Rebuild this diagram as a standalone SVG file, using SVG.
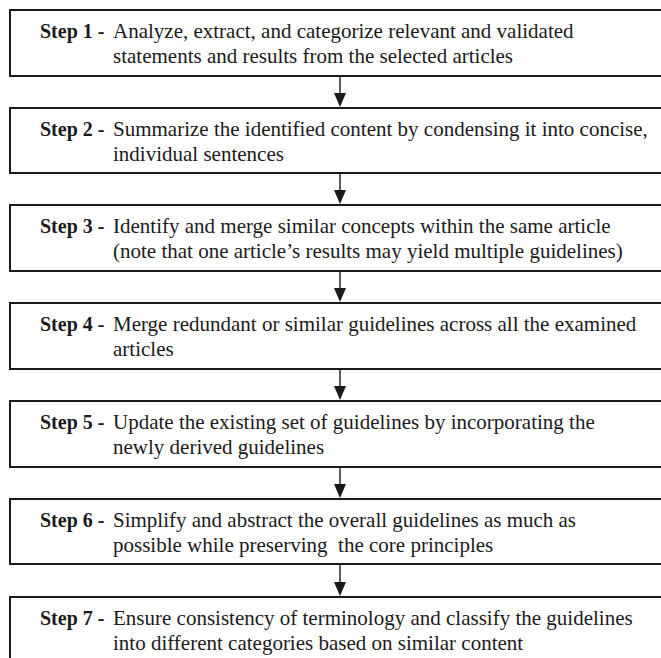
<svg xmlns="http://www.w3.org/2000/svg" width="661" height="658" viewBox="0 0 661 658">
<defs>
<style>
.box{fill:#ffffff;stroke:#1a1a1a;stroke-width:2}
.t{font-family:"Liberation Serif","Times New Roman",serif;font-size:21px;fill:#1a1a1a}
.b{font-weight:bold;font-size:20px}
.c{stroke:#1a1a1a;stroke-width:1.4;fill:none}
.h{fill:#1a1a1a}
</style>
</defs>
<rect width="661" height="658" fill="#ffffff"/>
<g id="connectors">
<path class="c" d="M340,77 V93"/><path class="h" d="M334,93 H346 L340,107 Z"/>
<path class="c" d="M340,174 V190"/><path class="h" d="M334,190 H346 L340,204 Z"/>
<path class="c" d="M340,272 V288"/><path class="h" d="M334,288 H346 L340,302 Z"/>
<path class="c" d="M340,370 V386"/><path class="h" d="M334,386 H346 L340,400 Z"/>
<path class="c" d="M340,468 V484"/><path class="h" d="M334,484 H346 L340,498 Z"/>
<path class="c" d="M340,565 V582"/><path class="h" d="M334,582 H346 L340,596 Z"/>
</g>
<g id="step1">
<rect class="box" x="10" y="10" width="670" height="66"/>
<text class="t" y="38"><tspan class="b" x="40">Step 1 -</tspan><tspan x="113">Analyze, extract, and categorize relevant and validated</tspan></text>
<text class="t" x="113" y="63">statements and results from the selected articles</text>
</g>
<g id="step2">
<rect class="box" x="10" y="108" width="670" height="65"/>
<text class="t" y="136"><tspan class="b" x="40">Step 2 -</tspan><tspan x="113">Summarize the identified content by condensing it into concise,</tspan></text>
<text class="t" x="113" y="161">individual sentences</text>
</g>
<g id="step3">
<rect class="box" x="10" y="205" width="670" height="66"/>
<text class="t" y="233"><tspan class="b" x="40">Step 3 -</tspan><tspan x="113">Identify and merge similar concepts within the same article</tspan></text>
<text class="t" x="113" y="258">(note that one article’s results may yield multiple guidelines)</text>
</g>
<g id="step4">
<rect class="box" x="10" y="303" width="670" height="66"/>
<text class="t" y="331"><tspan class="b" x="40">Step 4 -</tspan><tspan x="113">Merge redundant or similar guidelines across all the examined</tspan></text>
<text class="t" x="113" y="356">articles</text>
</g>
<g id="step5">
<rect class="box" x="10" y="401" width="670" height="66"/>
<text class="t" y="429"><tspan class="b" x="40">Step 5 -</tspan><tspan x="113">Update the existing set of guidelines by incorporating the</tspan></text>
<text class="t" x="113" y="454">newly derived guidelines</text>
</g>
<g id="step6">
<rect class="box" x="10" y="499" width="670" height="65"/>
<text class="t" y="527"><tspan class="b" x="40">Step 6 -</tspan><tspan x="113">Simplify and abstract the overall guidelines as much as</tspan></text>
<text class="t" x="113" y="552" xml:space="preserve">possible while preserving  the core principles</text>
</g>
<g id="step7">
<rect class="box" x="10" y="597" width="670" height="80"/>
<text class="t" y="625"><tspan class="b" x="40">Step 7 -</tspan><tspan x="113">Ensure consistency of terminology and classify the guidelines</tspan></text>
<text class="t" x="113" y="650">into different categories based on similar content</text>
</g>
</svg>
